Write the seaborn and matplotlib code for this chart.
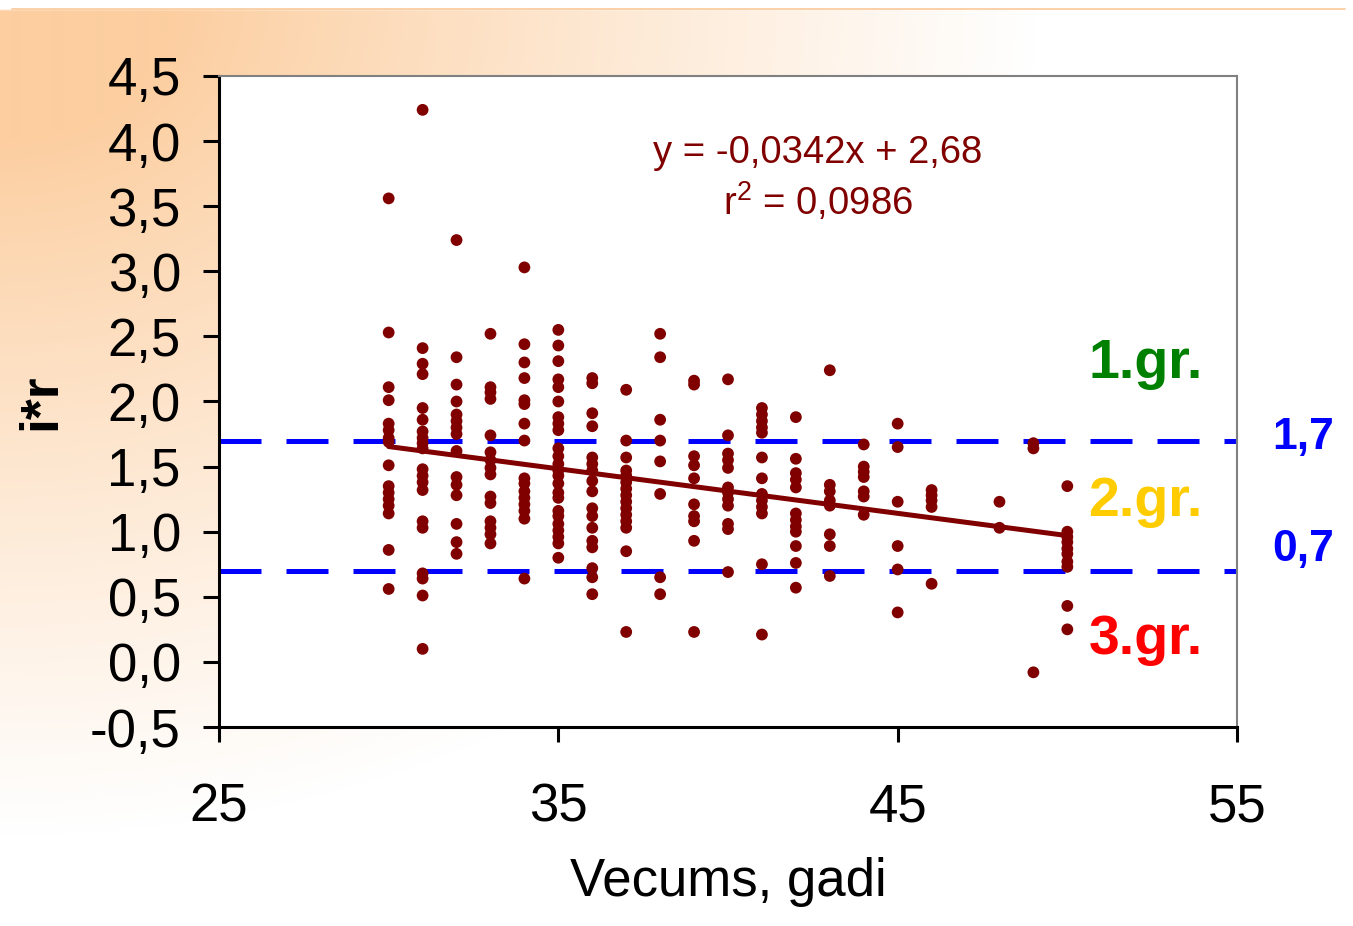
import numpy as np
import pandas as pd
import matplotlib
matplotlib.use("Agg")
import matplotlib.pyplot as plt
import seaborn as sns
from matplotlib.ticker import FuncFormatter, FixedLocator

# data: age (years) and i*r value of each point
age = ([30] * 16 + [31] * 20 + [32] * 15 + [33] * 15 + [34] * 16 + [35] * 24
       + [36] * 17 + [37] * 15 + [38] * 8 + [39] * 10 + [40] * 12 + [41] * 13
       + [42] * 12 + [43] * 8 + [44] * 7 + [45] * 6 + [46] * 5 + [48] * 2
       + [49] * 3 + [50] * 10)
ir = [
    3.56, 2.53, 2.11, 2.01, 1.83, 1.78, 1.72, 1.69, 1.51, 1.35, 1.30, 1.25, 1.20, 1.14, 0.86, 0.56,
    4.24, 2.41, 2.29, 2.21, 1.95, 1.86, 1.77, 1.72, 1.68, 1.64, 1.48, 1.43, 1.38, 1.32, 1.08, 1.03, 0.68, 0.64, 0.51, 0.10,
    3.24, 2.34, 2.13, 2.00, 1.90, 1.85, 1.80, 1.75, 1.62, 1.42, 1.36, 1.28, 1.06, 0.92, 0.83,
    2.52, 2.11, 2.07, 2.02, 1.74, 1.61, 1.55, 1.49, 1.44, 1.27, 1.22, 1.08, 1.03, 0.98, 0.91,
    3.03, 2.44, 2.30, 2.18, 2.01, 1.98, 1.83, 1.70, 1.41, 1.37, 1.31, 1.26, 1.21, 1.16, 1.10, 0.64,
    2.55, 2.43, 2.31, 2.17, 2.11, 2.00, 1.88, 1.83, 1.78, 1.64, 1.58, 1.52, 1.47, 1.43, 1.37, 1.30,
    1.26, 1.16, 1.12, 1.06, 1.01, 0.96, 0.91, 0.80,
    2.18, 2.14, 1.91, 1.81, 1.57, 1.52, 1.47, 1.39, 1.31, 1.18, 1.12, 1.03, 0.93, 0.88, 0.72, 0.65, 0.52,
    2.09, 1.70, 1.57, 1.47, 1.43, 1.38, 1.33, 1.28, 1.23, 1.18, 1.13, 1.08, 1.03, 0.85, 0.23,
    2.52, 2.34, 1.86, 1.70, 1.54, 1.29, 0.65, 0.52,
    2.16, 2.13, 1.58, 1.51, 1.41, 1.21, 1.12, 1.08, 0.93, 0.23,
    2.17, 1.74, 1.60, 1.55, 1.49, 1.34, 1.30, 1.25, 1.20, 1.06, 1.02, 0.69,
    1.95, 1.90, 1.85, 1.80, 1.76, 1.57, 1.41, 1.29, 1.24, 1.19, 1.14, 0.75, 0.21,
    1.88, 1.56, 1.45, 1.40, 1.34, 1.14, 1.09, 1.04, 1.00, 0.89, 0.76, 0.57,
    2.24, 1.36, 1.31, 1.24, 1.20, 0.98, 0.89, 0.66,
    1.67, 1.50, 1.46, 1.42, 1.31, 1.27, 1.13,
    1.83, 1.65, 1.23, 0.89, 0.71, 0.38,
    1.32, 1.28, 1.24, 1.19, 0.60,
    1.23, 1.03,
    1.68, 1.64, -0.08,
    1.35, 1.00, 0.96, 0.92, 0.87, 0.83, 0.77, 0.73, 0.43, 0.25,
]

slope = -0.0342
intercept = 2.68
r2 = 0.0986
thresholds = [1.7, 0.7]
group_labels = ["1.gr.", "2.gr.", "3.gr."]
group_colors = ["#008000", "#FFCC00", "#FF0000"]
x_ticks = [25, 35, 45, 55]
y_ticks = [-0.5, 0.0, 0.5, 1.0, 1.5, 2.0, 2.5, 3.0, 3.5, 4.0, 4.5]

sns.set_theme(style="white")
plt.rcParams['font.family'] = ['Liberation Sans', 'DejaVu Sans']
plt.rcParams['mathtext.fontset'] = 'custom'
plt.rcParams['mathtext.rm'] = 'Liberation Sans'
plt.rcParams['mathtext.default'] = 'regular'

W, H = 1353, 926
fig = plt.figure(figsize=(W / 100, H / 100), dpi=100)
fig.patch.set_facecolor('white')

# peach background fading out from the top left corner
bg = fig.add_axes([0, 0, 1, 1])
yy, xx = np.mgrid[0:H:2, 0:W:2]
d = np.sqrt((xx / (0.85 * W)) ** 2 + (yy / H) ** 2)
t = np.clip((d - 0.15) / 0.75, 0, 1) ** 0.9
peach = np.array([252, 206, 160]) / 255
img = peach * (1 - t[..., None]) + t[..., None]
img[yy < 9] = 1
bg.imshow(img, extent=[0, W, H, 0], aspect='auto', interpolation='bilinear')
bg.plot([12, W - 8], [9, 9], color='#FBC898', lw=1.2)
bg.set_xlim(0, W)
bg.set_ylim(H, 0)
bg.axis('off')

ax = fig.add_axes([219 / W, 1 - 727 / H, (1237 - 219) / W, (727 - 76) / H])
ax.set_facecolor('white')

df = pd.DataFrame({'age': age, 'ir': ir})
fit = pd.DataFrame({'age': [min(age), max(age)]})
fit['ir'] = intercept + slope * fit['age']

for th in thresholds:
    ax.axhline(th, color='#0000FF', lw=3.6, dashes=(8.4, 5), zorder=2)
sns.lineplot(data=fit, x='age', y='ir', color='#800000', lw=3.6, ax=ax, zorder=4)
sns.scatterplot(data=df, x='age', y='ir', color='#800000', s=72, edgecolor='none',
                linewidth=0, ax=ax, zorder=3)

ax.set_xlim(25, 55)
ax.set_ylim(-0.5, 4.5)
ax.xaxis.set_major_locator(FixedLocator(x_ticks))
ax.yaxis.set_major_locator(FixedLocator(y_ticks))
ax.xaxis.set_major_formatter(FuncFormatter(lambda v, p: f"{v:.0f}"))
ax.yaxis.set_major_formatter(FuncFormatter(lambda v, p: f"{v:.1f}".replace('.', ',')))
ax.tick_params(axis='y', left=True, direction='out', length=11.5, width=2.2, pad=16,
               labelsize=38, colors='black')
ax.tick_params(axis='x', bottom=True, direction='out', length=11, width=2.2, pad=29,
               labelsize=38, colors='black')

for side in ['left', 'bottom']:
    ax.spines[side].set_color('black')
    ax.spines[side].set_linewidth(2.2)
for side in ['top', 'right']:
    ax.spines[side].set_color('#808080')
    ax.spines[side].set_linewidth(1.5)

ax.set_xlabel('Vecums, gadi', fontsize=38, color='black')
ax.xaxis.set_label_coords(0.5, -0.2)
ax.set_ylabel('i*r', fontsize=38.5, fontweight='bold', color='black')
ax.yaxis.set_label_coords(-0.15, 0.5)

eq = f"y = {slope:.4f}x + {intercept:.2f}".replace('.', ',')
ax.text(42.65, 3.83, eq, ha='center', va='baseline', color='#800000', fontsize=27.5)
ax.text(42.65, 3.43, "r$^{2}$ = " + f"{r2:.4f}".replace('.', ','), ha='center',
        va='baseline', color='#800000', fontsize=27.5)

for lab, col, yb in zip(group_labels, group_colors, [2.18, 1.12, 0.06]):
    ax.text(52.3, yb, lab, ha='center', va='baseline', color=col, fontsize=40,
            fontweight='bold', clip_on=False)
for th, yb in zip(thresholds, [1.636, 0.776]):
    ax.text(56.95, yb, f"{th:.1f}".replace('.', ','), ha='center', va='baseline',
            color='#0000FF', fontsize=32, fontweight='bold', clip_on=False)

fig.savefig('out.png', dpi=100)
